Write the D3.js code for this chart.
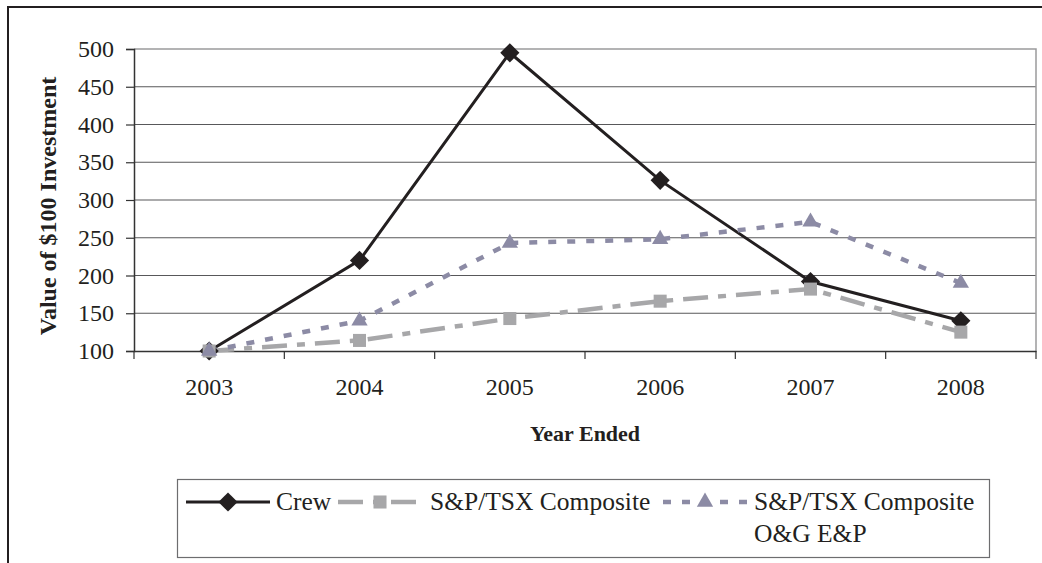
<!DOCTYPE html>
<html>
<head>
<meta charset="utf-8">
<script src="https://cdn.jsdelivr.net/npm/d3@7"></script>
<style>
  body { margin: 0; background: #fff; }
  svg { display: block; }
</style>
</head>
<body>
<div id="chart"></div>
<script>
// data
const years = ["2003", "2004", "2005", "2006", "2007", "2008"];
const crew = [100, 220, 495, 326, 192, 140];
const tsxComposite = [100, 114, 143, 166, 182, 125];
const tsxOilGas = [100, 140, 243, 248, 271, 190];
const yTicks = [100, 150, 200, 250, 300, 350, 400, 450, 500];

const width = 1042, height = 563;
const margin = { top: 49, right: 6, bottom: 212, left: 134 };
const font = "'Liberation Serif', 'Times New Roman', serif";

const svg = d3.select("#chart").append("svg")
  .attr("width", width)
  .attr("height", height);

// outer frame (cropped: only top and left visible)
svg.append("path")
  .attr("d", `M8,${height} L8,7 L${width},7`)
  .attr("fill", "none")
  .attr("stroke", "#231f20")
  .attr("stroke-width", 2);

const x = d3.scaleBand()
  .domain(years)
  .range([margin.left, width - margin.right]);

const y = d3.scaleLinear()
  .domain([100, 500])
  .range([height - margin.bottom, margin.top]);

// gridlines
svg.append("g")
  .selectAll("line")
  .data(yTicks.filter(d => d > 100 && d < 500))
  .enter()
  .append("line")
  .attr("x1", margin.left)
  .attr("x2", width - margin.right)
  .attr("y1", d => y(d))
  .attr("y2", d => y(d))
  .attr("stroke", "#58585a")
  .attr("stroke-width", 1.2);

// plot border top + right
svg.append("path")
  .attr("d", `M${margin.left},${y(500)} L${width - margin.right},${y(500)} L${width - margin.right},${y(100)}`)
  .attr("fill", "none")
  .attr("stroke", "#9a9a9c")
  .attr("stroke-width", 1.5);

// Y axis
const yAxis = svg.append("g")
  .attr("transform", `translate(${margin.left},0)`)
  .call(d3.axisLeft(y).tickValues(yTicks).tickSize(8).tickPadding(12));
yAxis.select(".domain").attr("stroke", "#333").attr("stroke-width", 1.5);
yAxis.selectAll(".tick line").attr("stroke", "#333").attr("stroke-width", 1.2);
yAxis.selectAll("text")
  .style("font-family", font)
  .style("font-size", "24px")
  .attr("fill", "#231f20");

// X axis: ticks on band boundaries
const xAxis = svg.append("g")
  .attr("transform", `translate(0,${y(100)})`)
  .call(d3.axisBottom(x).tickSize(0).tickPadding(27));
xAxis.select(".domain").attr("stroke", "#333").attr("stroke-width", 1.5);
xAxis.selectAll("text")
  .style("font-family", font)
  .style("font-size", "24px")
  .attr("fill", "#231f20");
xAxis.selectAll(".bound")
  .data(years.concat(["end"]))
  .enter()
  .append("line")
  .attr("x1", (d, i) => margin.left + i * x.step())
  .attr("x2", (d, i) => margin.left + i * x.step())
  .attr("y1", 0)
  .attr("y2", 8)
  .attr("stroke", "#333")
  .attr("stroke-width", 1.2);

// axis titles
svg.append("text")
  .attr("transform", `translate(56,${(y(100) + y(500)) / 2 + 6}) rotate(-90)`)
  .attr("text-anchor", "middle")
  .style("font-family", font)
  .style("font-size", "24px")
  .style("font-weight", "bold")
  .attr("fill", "#231f20")
  .text("Value of $100 Investment");

svg.append("text")
  .attr("x", 585)
  .attr("y", 441)
  .attr("text-anchor", "middle")
  .style("font-family", font)
  .style("font-size", "22px")
  .style("font-weight", "bold")
  .attr("fill", "#231f20")
  .text("Year Ended");

// series
const series = [
  { name: "Crew", values: crew, color: "#231f20", width: 3, dash: null, marker: "diamond" },
  { name: "S&P/TSX Composite", values: tsxComposite, color: "#a7a7a9", width: 4.5, dash: "25,10,8,10", marker: "square" },
  { name: "S&P/TSX Composite O&G E&P", values: tsxOilGas, color: "#8c8ba5", width: 4.5, dash: "8,11", marker: "triangle" }
];

const symbols = {
  diamond: d3.symbol().type(d3.symbolDiamond2).size(235),
  square: d3.symbol().type(d3.symbolSquare).size(170),
  triangle: d3.symbol().type(d3.symbolTriangle).size(115)
};

const line = d3.line()
  .x((d, i) => x(years[i]) + x.bandwidth() / 2)
  .y(d => y(d));

series.forEach(s => {
  svg.append("path")
    .datum(s.values)
    .attr("d", line)
    .attr("fill", "none")
    .attr("stroke", s.color)
    .attr("stroke-width", s.width)
    .attr("stroke-dasharray", s.dash);
});

series.forEach(s => {
  svg.append("g")
    .selectAll("path")
    .data(s.values)
    .enter()
    .append("path")
    .attr("transform", (d, i) => `translate(${x(years[i]) + x.bandwidth() / 2},${y(d)})`)
    .attr("d", symbols[s.marker])
    .attr("fill", s.color);
});

// legend
const legend = svg.append("g");
legend.append("rect")
  .attr("x", 177.5)
  .attr("y", 479.5)
  .attr("width", 812)
  .attr("height", 78)
  .attr("fill", "#fff")
  .attr("stroke", "#6d6d6f")
  .attr("stroke-width", 1.2);

const legendItems = [
  { s: series[0], x0: 186, x1: 270, tx: 276, lines: ["Crew"] },
  { s: series[1], x0: 338, x1: 422, tx: 430, lines: ["S&P/TSX Composite"] },
  { s: series[2], x0: 663, x1: 747, tx: 754, lines: ["S&P/TSX Composite", "O&G E&P"] }
];

legendItems.forEach(item => {
  const ly = 502;
  legend.append("line")
    .attr("x1", item.x0)
    .attr("x2", item.x1)
    .attr("y1", ly)
    .attr("y2", ly)
    .attr("stroke", item.s.color)
    .attr("stroke-width", item.s.width)
    .attr("stroke-dasharray", item.s.dash);
  legend.append("path")
    .attr("transform", `translate(${(item.x0 + item.x1) / 2},${ly})`)
    .attr("d", symbols[item.s.marker])
    .attr("fill", item.s.color);
  item.lines.forEach((t, i) => {
    legend.append("text")
      .attr("x", item.tx)
      .attr("y", 510 + i * 32)
      .style("font-family", font)
      .style("font-size", "25.5px")
      .attr("fill", "#231f20")
      .text(t);
  });
});
</script>
</body>
</html>
